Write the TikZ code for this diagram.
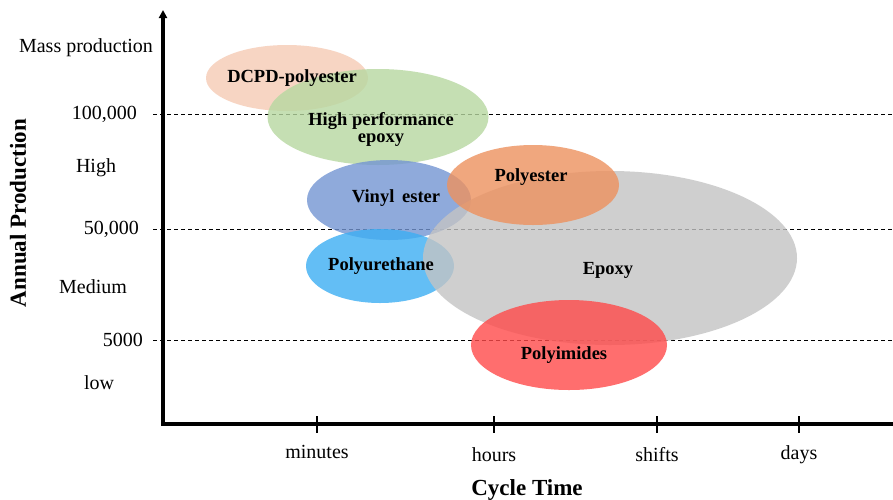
\documentclass[tikz,border=0pt]{standalone}
\usepackage{fontspec}
\setmainfont{Liberation Serif}
\usetikzlibrary{shapes.geometric,arrows.meta}
\definecolor{cDCPD}{RGB}{246,203,181}
\definecolor{cHPE}{RGB}{183,216,161}
\definecolor{cVE}{RGB}{115,149,211}
\definecolor{cPU}{RGB}{61,174,243}
\definecolor{cPES}{RGB}{237,145,94}
\definecolor{cEP}{RGB}{196,196,196}
\definecolor{cPI}{RGB}{255,74,74}
\begin{document}
\begin{tikzpicture}[x=1pt,y=-1pt,
  blob/.style={ellipse, inner sep=0pt, draw=none, fill opacity=0.8},
  lab/.style={font=\fontsize{20}{22}\selectfont, inner sep=0pt},
  blab/.style={font=\bfseries\fontsize{18.5}{19}\selectfont, align=center, inner sep=0pt},
  ttl/.style={font=\bfseries\fontsize{23}{25}\selectfont, inner sep=0pt},
  gridline/.style={dash pattern=on 4pt off 3pt, line width=1pt},
  axisline/.style={line width=4pt},
  tickline/.style={line width=1.3pt}]
\useasboundingbox (0,0) rectangle (893,499);
\fill[white] (0,0) rectangle (893,499);

% dashed levels
\coordinate (g1a) at (153,114); \coordinate (g1b) at (893,114);
\coordinate (g2a) at (153,229); \coordinate (g2b) at (893,229);
\coordinate (g3a) at (153,340); \coordinate (g3b) at (893,340);
\draw[gridline] (g1a) -- (g1b);
\draw[gridline] (g2a) -- (g2b);
\draw[gridline] (g3a) -- (g3b);

% ellipses
\node[blob, fill=cDCPD, minimum width=162pt, minimum height=66pt] (dcpd) at (287,78) {};
\node[blob, fill=cHPE, minimum width=221pt, minimum height=96pt] (hpe) at (378,117) {};
\node[blob, fill=cVE, minimum width=164pt, minimum height=80pt] (ve) at (389,200) {};
\node[blob, fill=cPU, minimum width=148pt, minimum height=74pt] (pu) at (380,266) {};
\node[blob, fill=cEP, minimum width=374pt, minimum height=174pt] (ep) at (610,258) {};
\node[blob, fill=cPES, minimum width=172pt, minimum height=80pt] (pes) at (533,185) {};
\node[blob, fill=cPI, minimum width=196pt, minimum height=90pt] (pi) at (569,345) {};

% ellipse labels
\node[blab] (tdcpd) at (292,78) {DCPD-polyester};
\node[blab] (thpe) at (381,129) {High performance\\[-2pt]epoxy};
\node[blab] (tve) at (396,198) {Vinyl\, ester};
\node[blab] (tpu) at (381,266) {Polyurethane};
\node[blab] (tpes) at (531,177) {Polyester};
\node[blab] (tep) at (608,270) {Epoxy};
\node[blab] (tpi) at (564,355) {Polyimides};

% axes
\coordinate (ytop) at (163,10);
\coordinate (orig) at (163,424);
\coordinate (xend) at (893,424);
\draw[axisline, {Triangle[length=8pt,width=8pt]}-, line join=miter] (ytop) -- (orig) -- (xend);

% ticks
\foreach \n/\xx in {tm/317, th/494, ts/657, td/799}{
  \coordinate (\n a) at (\xx,416); \coordinate (\n b) at (\xx,433);
  \draw[tickline] (\n a) -- (\n b);
}
\node[lab] (lmin) at (317,452) {minutes};
\node[lab] (lhou) at (494,455) {hours};
\node[lab] (lshi) at (657,455) {shifts};
\node[lab] (lday) at (799,455) {days};
\node[ttl] (xt) at (527,490) {Cycle Time};

% y labels
\node[lab] (ymass) at (86,48) {Mass production};
\node[lab, anchor=east] (y100) at (137,114) {100,000};
\node[lab] (yhigh) at (96,168) {High};
\node[lab, anchor=east] (y50) at (139,229) {50,000};
\node[lab] (ymed) at (93,287) {Medium};
\node[lab, anchor=east] (y5) at (143,340) {5000};
\node[lab] (ylow) at (99,383) {low};
\node[ttl, rotate=90] (yt) at (18,213) {Annual Production};
\end{tikzpicture}
\end{document}
